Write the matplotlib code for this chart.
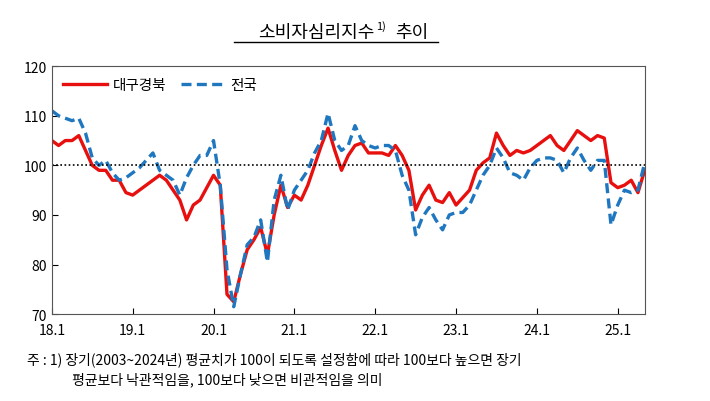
import matplotlib
matplotlib.use('Agg')
import matplotlib.pyplot as plt

plt.rcParams['font.family'] = ['Noto Sans CJK JP', 'Noto Sans CJK KR', 'DejaVu Sans']

# monthly, 2018.1 ~ 2025.5
daegu = [105, 104, 105, 105, 106, 103, 100, 99, 99, 97, 97, 94.5,
         94, 95, 96, 97, 98, 97, 95, 93, 89, 92, 93, 95.5,
         98, 96, 74, 72.5, 78, 83, 85, 87.5, 82, 90, 96, 91.5,
         94, 93, 96, 100, 104, 107.5, 103, 99, 102, 104, 104.5, 102.5,
         102.5, 102.5, 102, 104, 102, 99, 91, 94, 96, 93, 92.5, 94.5,
         92, 93.5, 95, 99, 100.5, 101.5, 106.5, 104, 102, 103, 102.5, 103,
         104, 105, 106, 104, 103, 105, 107, 106, 105, 106, 105.5, 96.5,
         95.5, 96, 97, 94.5, 99]
national = [111, 110, 109.5, 109, 109.5, 106.5, 101.5, 100, 101, 98.5, 97, 97.5,
            98.5, 99.5, 101, 102.5, 99, 98, 97, 94, 97.5, 100, 102, 102,
            105, 96, 79, 71.5, 78, 84, 85.5, 89, 80.5, 93, 98, 91,
            95, 97, 99, 102.5, 105, 110.5, 105, 103, 104, 108, 105, 104,
            103.5, 104, 104, 103, 98, 95, 86, 89.5, 91.5, 89, 87, 90,
            90.5, 90.5, 92, 95, 98, 100, 103.5, 101.5, 98.5, 98, 97, 99.5,
            101, 101.5, 101.5, 101, 98.5, 101.5, 103.5, 101, 99, 101, 101, 88,
            92, 95, 94.5, 95, 100.5]
tick_pos = [0, 12, 24, 36, 48, 60, 72, 84]
tick_labels = ['18.1', '19.1', '20.1', '21.1', '22.1', '23.1', '24.1', '25.1']

fig = plt.figure(figsize=(7.1, 4.02), dpi=100)
ax = fig.add_axes([0.073, 0.216, 0.835, 0.617])

x = list(range(len(daegu)))
ax.plot(x, daegu, color='#e8100f', lw=2.4, label='대구경북')
ax.plot(x, national, color='#1f77c0', lw=2.4, ls=(0, (3, 1.6)), label='전국')
ax.axhline(100, color='black', lw=1.2, ls=(0, (1, 1.5)))

ax.set_xlim(0, len(daegu) - 1)
ax.set_ylim(70, 120)
ax.set_yticks(range(70, 121, 10))
ax.set_xticks(tick_pos)
ax.set_xticklabels(tick_labels)
ax.tick_params(direction='in', labelsize=10, length=4)
ax.tick_params(axis='x', pad=6)
for s in ax.spines.values():
    s.set_linewidth(0.8)
    s.set_color('#555555')

ax.legend(loc='upper left', ncol=2, frameon=False, fontsize=10.5,
          handlelength=3, columnspacing=1.0, borderaxespad=0.4, handletextpad=0.4)

# title with superscript and underline
fig.text(0.528, 0.905, '소비자심리지수', fontsize=13, ha='right', va='baseline')
fig.text(0.530, 0.925, '1)', fontsize=8, ha='left', va='baseline')
fig.text(0.556, 0.905, '추이', fontsize=13, ha='left', va='baseline')
fig.add_artist(plt.Line2D([0.33, 0.617], [0.893, 0.893], color='black', lw=1.0))

fig.text(0.038, 0.105, '주 : 1) 장기(2003~2024년) 평균치가 100이 되도록 설정함에 따라 100보다 높으면 장기',
         fontsize=10, ha='left', va='center')
fig.text(0.102, 0.055, '평균보다 낙관적임을, 100보다 낮으면 비관적임을 의미',
         fontsize=10, ha='left', va='center')

fig.savefig('out.png', dpi=100)
